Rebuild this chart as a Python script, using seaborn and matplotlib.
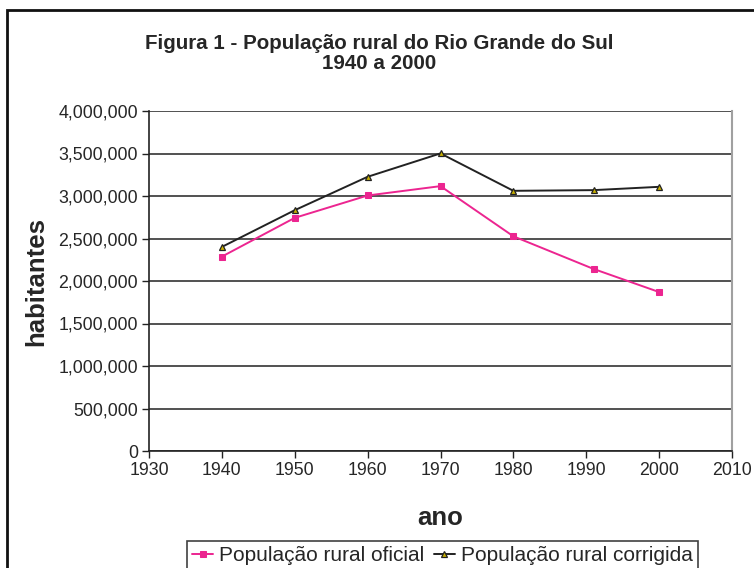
import pandas as pd
import matplotlib.pyplot as plt
from matplotlib.ticker import StrMethodFormatter, MultipleLocator
from matplotlib.patches import Rectangle
import seaborn as sns

sns.set_style('white')
plt.rcParams['font.family'] = ['Liberation Sans', 'DejaVu Sans']

# Dados
anos = [1940, 1950, 1960, 1970, 1980, 1991, 2000]
pop_oficial = [2287000, 2743000, 3006000, 3116000, 2526000, 2142000, 1870000]
pop_corrigida = [2401000, 2833000, 3226000, 3501000, 3061000, 3069000, 3108000]

nome_oficial = 'População rural oficial'
nome_corrigida = 'População rural corrigida'

df = pd.DataFrame({'ano': anos, 'oficial': pop_oficial, 'corrigida': pop_corrigida})

fig = plt.figure(figsize=(7.54, 5.68), dpi=100)
ax = fig.add_axes([149/754, 1 - 451/568, (732 - 149)/754, (451 - 111)/568])

sns.lineplot(data=df, x='ano', y='oficial', ax=ax, color='#ec2590', lw=1.4,
             marker='s', markersize=4, markeredgecolor='#ec2590', label=nome_oficial)
sns.lineplot(data=df, x='ano', y='corrigida', ax=ax, color='#222222', lw=1.4,
             marker='^', markersize=4.5, markerfacecolor='#c8b000',
             markeredgecolor='#222222', markeredgewidth=0.9, label=nome_corrigida)

ax.set_xlim(1930, 2010)
ax.set_ylim(0, 4000000)
ax.xaxis.set_major_locator(MultipleLocator(10))
ax.yaxis.set_major_locator(MultipleLocator(500000))
ax.yaxis.set_major_formatter(StrMethodFormatter('{x:,.0f}'))
ax.grid(axis='y', color='#333333', lw=1.2)
ax.set_axisbelow(True)
ax.set_xlabel('')
ax.set_ylabel('')

for s in ['left', 'bottom']:
    ax.spines[s].set_color('#222222')
    ax.spines[s].set_linewidth(1.2)
ax.spines['right'].set_color('#a0a0a0')
ax.spines['right'].set_linewidth(1.5)
ax.spines['top'].set_visible(False)
ax.tick_params(axis='both', direction='out', length=5, width=1, color='#222222',
               labelsize=12.8, pad=3, left=True, bottom=True)

# Legenda na parte inferior
ax.get_legend().remove()
h, l = ax.get_legend_handles_labels()
leg = fig.legend(h, l, loc='upper left', bbox_to_anchor=(187/754, 1 - 541/568), ncol=2,
                 fontsize=15, frameon=True, fancybox=False, edgecolor='#111111',
                 handlelength=1.0, handletextpad=0.3, columnspacing=0.45,
                 borderpad=0.25, borderaxespad=0)
leg.get_frame().set_linewidth(1.2)

# Títulos
fig.text(379/754, 1 - 34/568, 'Figura 1 - População rural do Rio Grande do Sul\n1940 a 2000',
         ha='center', va='top', fontsize=14.8, fontweight='bold', linespacing=1.05)
fig.text(36/754, 1 - 281/568, 'habitantes', rotation=90, ha='center', va='center',
         fontsize=18.5, fontweight='bold')
fig.text(440/754, 1 - 518/568, 'ano', ha='center', va='center',
         fontsize=18.5, fontweight='bold')

# Moldura do gráfico (esquerda e topo)
fig.patches.append(Rectangle((7/754, -0.1), 1.2, 1 - 10/568 + 0.1, transform=fig.transFigure,
                             fill=False, edgecolor='#111111', lw=2))

fig.savefig('out.png', dpi=100)
